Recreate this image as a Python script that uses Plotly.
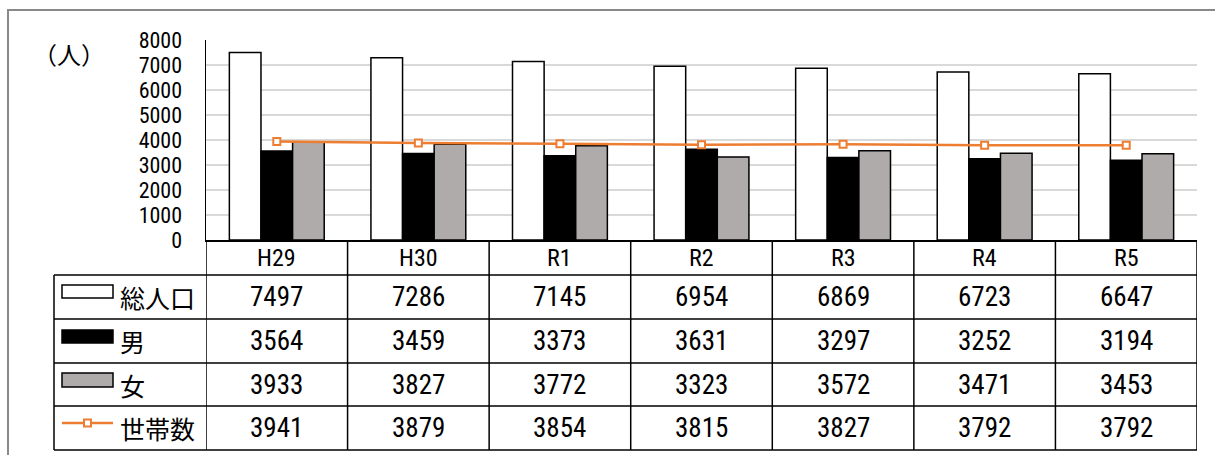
import plotly.graph_objects as go

categories = ["H29", "H30", "R1", "R2", "R3", "R4", "R5"]
total = [7497, 7286, 7145, 6954, 6869, 6723, 6647]
male = [3564, 3459, 3373, 3631, 3297, 3252, 3194]
female = [3933, 3827, 3772, 3323, 3572, 3471, 3453]
households = [3941, 3879, 3854, 3815, 3827, 3792, 3792]
series_names = ["総人口", "男", "女", "世帯数"]
y_ticks = [0, 1000, 2000, 3000, 4000, 5000, 6000, 7000, 8000]
unit_label = "（人）"

W, H = 1215, 455
NUM_FONT = "Liberation Sans Narrow, Arial Narrow, Roboto Condensed, Liberation Sans, sans-serif"
JP_FONT = "Noto Sans CJK JP, sans-serif"
ORANGE = "#ED7D31"
GRAY = "#AFABAB"


def px(x):
    return x / W


def py(y):
    return 1 - y / H


fig = go.Figure()
fig.add_bar(x=categories, y=total, name=series_names[0], marker=dict(color="white", line=dict(color="black", width=1.5)))
fig.add_bar(x=categories, y=male, name=series_names[1], marker=dict(color="black", line=dict(color="black", width=1.5)))
fig.add_bar(x=categories, y=female, name=series_names[2], marker=dict(color=GRAY, line=dict(color="black", width=1.5)))
fig.add_scatter(x=categories, y=households, name=series_names[3], mode="lines+markers",
                line=dict(color=ORANGE, width=2.5),
                marker=dict(symbol="square", size=7, color="white", line=dict(color=ORANGE, width=2)))

fig.update_layout(
    template="none",
    width=W, height=H, margin=dict(l=0, r=0, t=0, b=0, pad=0, autoexpand=False),
    paper_bgcolor="white", plot_bgcolor="white",
    showlegend=False, barmode="group", bargap=0.33, bargroupgap=0,
    xaxis=dict(domain=[px(206), px(1197)], type="category", range=[-0.5, len(categories) - 0.5],
               showticklabels=False, showgrid=False, showline=True, linecolor="black", linewidth=1.5,
               automargin=False, fixedrange=True, ticks=""),
    yaxis=dict(domain=[py(240), py(40)], range=[0, 8000], tickvals=y_ticks, automargin=False,
               showgrid=True, gridcolor="#D9D9D9", gridwidth=1.5, zeroline=False,
               showline=True, linecolor="black", linewidth=1.5, fixedrange=True,
               ticks="outside", ticklen=18, tickcolor="rgba(0,0,0,0)",
               tickfont=dict(family=NUM_FONT, size=22, color="black")),
)

shapes = []
# outer frame
shapes.append(dict(type="rect", xref="paper", yref="paper", x0=px(8), x1=1.05, y0=py(10), y1=-0.05,
                   line=dict(color="#898989", width=2), fillcolor="rgba(0,0,0,0)", layer="below"))

row_edges = [241, 275, 319, 363, 406, 450]
line_style = dict(color="black", width=1.5)
# horizontal table lines
for i, ry in enumerate(row_edges):
    x0 = px(206) if i == 0 else px(54)
    shapes.append(dict(type="line", xref="paper", yref="paper", x0=x0, x1=px(1197), y0=py(ry), y1=py(ry), line=line_style))
# vertical lines
shapes.append(dict(type="line", xref="paper", yref="paper", x0=px(54), x1=px(54), y0=py(275), y1=py(450), line=line_style))
for i in range(len(categories) + 1):
    shapes.append(dict(type="line", xref="x", yref="paper", x0=i - 0.5, x1=i - 0.5, y0=py(241), y1=py(450), line=line_style))

# legend glyphs
shapes.append(dict(type="rect", xref="paper", yref="paper", x0=px(62), x1=px(113), y0=py(285), y1=py(298),
                   fillcolor="white", line=dict(color="black", width=1.5)))
shapes.append(dict(type="rect", xref="paper", yref="paper", x0=px(62), x1=px(113), y0=py(330), y1=py(343),
                   fillcolor="black", line=dict(color="black", width=1.5)))
shapes.append(dict(type="rect", xref="paper", yref="paper", x0=px(62), x1=px(113), y0=py(373), y1=py(387),
                   fillcolor=GRAY, line=dict(color="black", width=1.5)))
shapes.append(dict(type="line", xref="paper", yref="paper", x0=px(62), x1=px(113), y0=py(423), y1=py(423),
                   line=dict(color=ORANGE, width=2.5)))
shapes.append(dict(type="rect", xref="paper", yref="paper", x0=px(84), x1=px(91), y0=py(419.5), y1=py(426.5),
                   fillcolor="white", line=dict(color=ORANGE, width=2)))
fig.update_layout(shapes=shapes)

ann = []
ann.append(dict(text=unit_label, xref="paper", yref="paper", x=px(69), y=py(53), showarrow=False,
                xanchor="center", yanchor="middle",
                font=dict(family=JP_FONT, size=24, color="black")))
for c in categories:
    ann.append(dict(text=c, xref="x", yref="paper", x=c, y=py(258), showarrow=False,
                    xanchor="center", yanchor="middle",
                    font=dict(family=NUM_FONT, size=24, color="black")))
rows = [total, male, female, households]
row_centers = [297, 341, 384.5, 428]
for name, vals, cy in zip(series_names, rows, row_centers):
    ann.append(dict(text=name, xref="paper", yref="paper", x=px(118), y=py(cy), xanchor="left", yanchor="middle",
                    showarrow=False, font=dict(family=JP_FONT, size=25, color="black")))
    for c, v in zip(categories, vals):
        ann.append(dict(text=str(v), xref="x", yref="paper", x=c, y=py(cy), showarrow=False,
                        xanchor="center", yanchor="middle",
                        font=dict(family=NUM_FONT, size=27, color="black")))
fig.update_layout(annotations=ann)

fig.write_html("out.html", config={"displayModeBar": False, "staticPlot": True},
               post_script="document.body.style.margin='0';document.body.style.overflow='hidden';")
